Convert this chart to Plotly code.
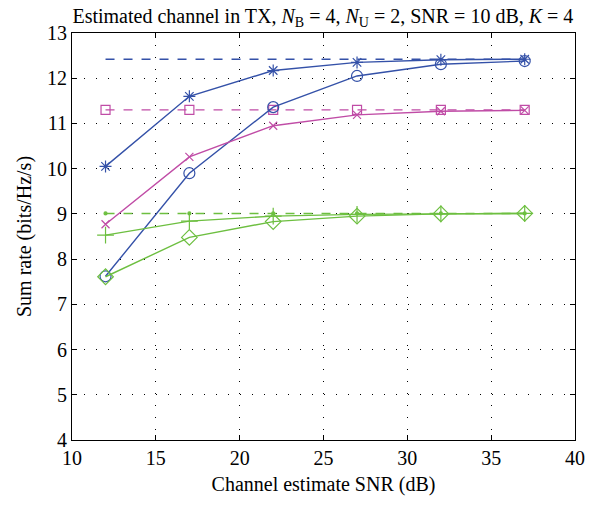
import plotly.graph_objects as go

snr = [12, 17, 22, 27, 32, 37]

blue_dashed = [12.42, 12.42, 12.42, 12.42, 12.42, 12.42]
blue_star = [10.05, 11.60, 12.17, 12.35, 12.41, 12.42]
blue_circle = [7.62, 9.90, 11.36, 12.05, 12.31, 12.38]
mag_square = [11.30, 11.30, 11.30, 11.30, 11.30, 11.30]
mag_x = [8.77, 10.26, 10.95, 11.19, 11.27, 11.29]
green_dashed = [9.01, 9.01, 9.01, 9.01, 9.01, 9.01]
green_plus = [8.53, 8.84, 8.95, 8.99, 9.00, 9.01]
green_diamond = [7.61, 8.48, 8.83, 8.95, 9.00, 9.01]

BLUE = "#3451a8"
MAG = "#c04ca6"
GREEN = "#6dbf40"

fig = go.Figure()

def add(y, color, dash, symbol, size=9):
    fig.add_trace(go.Scatter(
        x=snr, y=y, mode="lines+markers" if symbol else "lines",
        line=dict(color=color, width=1.4, dash=dash),
        marker=dict(symbol=symbol or "circle", size=size, color=color,
                    line=dict(color=color, width=1.2)),
        showlegend=False))

add(blue_dashed, BLUE, "dash", None)
add(mag_square, MAG, "dash", "square-open", 9)
add(green_dashed, GREEN, "dash", "circle", 3)
add(blue_star, BLUE, "solid", "asterisk-open", 10)
add(blue_circle, BLUE, "solid", "circle-open", 11)
add(mag_x, MAG, "solid", "x-thin-open", 8)
add(green_plus, GREEN, "solid", "cross-thin-open", 12)
add(green_diamond, GREEN, "solid", "diamond-open", 12)

font = "Liberation Serif"
FS = 20
axis_common = dict(
    showline=True, linecolor="black", linewidth=1, mirror="allticks",
    ticks="inside", ticklen=5, tickcolor="black",
    showgrid=True, gridcolor="black", gridwidth=1, griddash="1px,11px",
    zeroline=False, tickfont=dict(family=font, size=FS, color="black"),
)

fig.update_layout(
    width=598, height=505,
    margin=dict(l=72, r=23, t=33, b=65),
    paper_bgcolor="white", plot_bgcolor="white",
    title=dict(
        text="Estimated channel in TX, <i>N</i><sub>B</sub> = 4, <i>N</i><sub>U</sub> = 2, SNR = 10 dB, <i>K</i> = 4",
        font=dict(family=font, size=FS, color="black"),
        x=0.54, xanchor="center", y=0.982, yanchor="top"),
    xaxis=dict(range=[10, 40], tickvals=[10, 15, 20, 25, 30, 35, 40],
               title=dict(text="Channel estimate SNR (dB)",
                          font=dict(family=font, size=FS, color="black"), standoff=8),
               **axis_common),
    yaxis=dict(range=[4, 13], tickvals=list(range(4, 14)),
               title=dict(text="Sum rate (bits/Hz/s)",
                          font=dict(family=font, size=FS, color="black"), standoff=10),
               **axis_common),
)

fig.write_html("out.html")
